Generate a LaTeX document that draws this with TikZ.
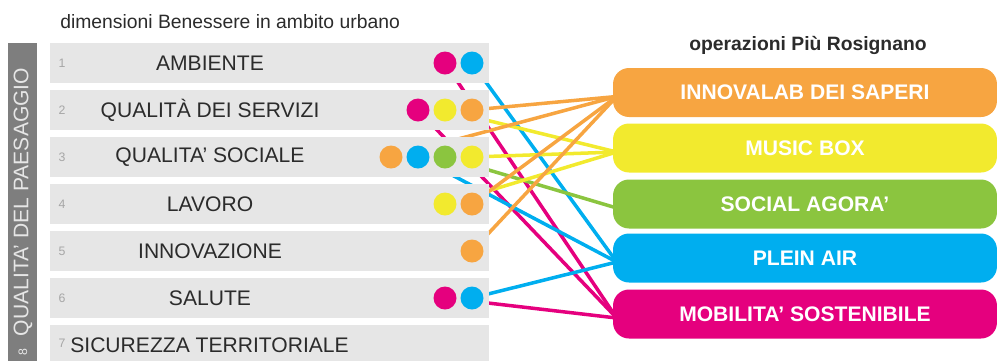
\documentclass[tikz,border=0pt]{standalone}
\usepackage{fontspec}
\setmainfont{Liberation Sans}
\usepackage{tikz}
\usepackage{xcolor}
\usetikzlibrary{calc}
\definecolor{rosa}{HTML}{E5007E}
\definecolor{azzurro}{HTML}{00AEEF}
\definecolor{giallo}{HTML}{F2EA2E}
\definecolor{arancio}{HTML}{F7A541}
\definecolor{verde}{HTML}{8BC53F}
\definecolor{grigio}{HTML}{E6E6E6}
\definecolor{grigioscuro}{HTML}{7E7E7E}
\definecolor{testo}{HTML}{2B2B2B}
\pgfdeclarelayer{sotto}
\pgfsetlayers{sotto,main}
\tikzset{
rigabox/.style={fill=grigio,minimum width=8.78cm,minimum height=0.8cm,inner sep=0},
numero/.style={text=gray!70,font=\fontsize{7}{8}\selectfont,inner sep=0},
voce/.style={text=testo,font=\fontsize{12}{14}\selectfont,inner sep=0},
pallino/.style={circle,minimum size=0.46cm,inner sep=0},
pillola/.style={rounded corners=0.32cm,minimum width=7.68cm,minimum height=0.98cm,
  text=white,font=\bfseries\fontsize{12}{14}\selectfont},
linea/.style={line width=2pt}}
\newcommand{\riga}[3]{
\node[rigabox] (riga#1) at (269.5,#2) {};
\node[numero] (n#1) at (62,#2) {#1};
\node[voce] (v#1) at (210,#2) {#3};}

\begin{document}
\begin{tikzpicture}[x=0.02cm,y=-0.02cm]
\useasboundingbox (0,0) rectangle (998,360);
\fill[grigioscuro] (8,43) rectangle (37,365);
\node[rotate=90,text=grigio,font=\fontsize{12}{14}\selectfont] (paesaggio) at (23,202) {QUALITA' DEL PAESAGGIO};
\node[rotate=90,text=grigio,font=\fontsize{7}{8}\selectfont] (otto) at (23,352) {8};
\node[anchor=west,text=testo,font=\fontsize{11}{13}\selectfont,inner sep=0] (titolo) at (60,22) {dimensioni Benessere in ambito urbano};
\node[text=testo,font=\bfseries\fontsize{11}{13}\selectfont] (titolo2) at (808,45) {operazioni Più Rosignano};
% righe
\riga{1}{63}{AMBIENTE}
\riga{2}{110}{QUALITÀ DEI SERVIZI}
\riga{3}{157}{QUALITA' SOCIALE}
\riga{4}{204}{LAVORO}
\riga{5}{251}{INNOVAZIONE}
\riga{6}{298}{SALUTE}
\node[rigabox] (riga7) at (269.5,345) {};
\node[numero] (n7) at (62,343) {7};
\node[voce,anchor=west] (v7) at (70,345) {SICUREZZA TERRITORIALE};
% pallini
\foreach \r/\x/\c in {1/445/rosa,1/472/azzurro,2/418/rosa,2/445/giallo,2/472/arancio,
3/391/arancio,3/418/azzurro,3/445/verde,3/472/giallo,4/445/giallo,4/472/arancio,
5/472/arancio,6/445/rosa,6/472/azzurro}{
\node[pallino,fill=\c] (d\r\c) at (\x,{16+47*\r}) {};}
% operazioni
\node[pillola,fill=arancio] (parancio) at (805,92.5) {INNOVALAB DEI SAPERI};
\node[pillola,fill=giallo] (pgiallo) at (805,148) {MUSIC BOX};
\node[pillola,fill=verde] (pverde) at (805,204) {SOCIAL AGORA'};
\node[pillola,fill=azzurro] (pazzurro) at (805,258) {PLEIN AIR};
\node[pillola,fill=rosa] (prosa) at (805,314) {MOBILITA' SOSTENIBILE};
% collegamenti
\begin{pgfonlayer}{sotto}
\foreach \r/\c in {1/rosa,1/azzurro,2/rosa,2/giallo,2/arancio,3/arancio,3/azzurro,
3/verde,3/giallo,4/giallo,4/arancio,5/arancio,6/rosa,6/azzurro}{
\draw[linea,\c] (d\r\c.center) -- ($(p\c.west)+(4,4)$);}
\end{pgfonlayer}
\end{tikzpicture}
\end{document}
